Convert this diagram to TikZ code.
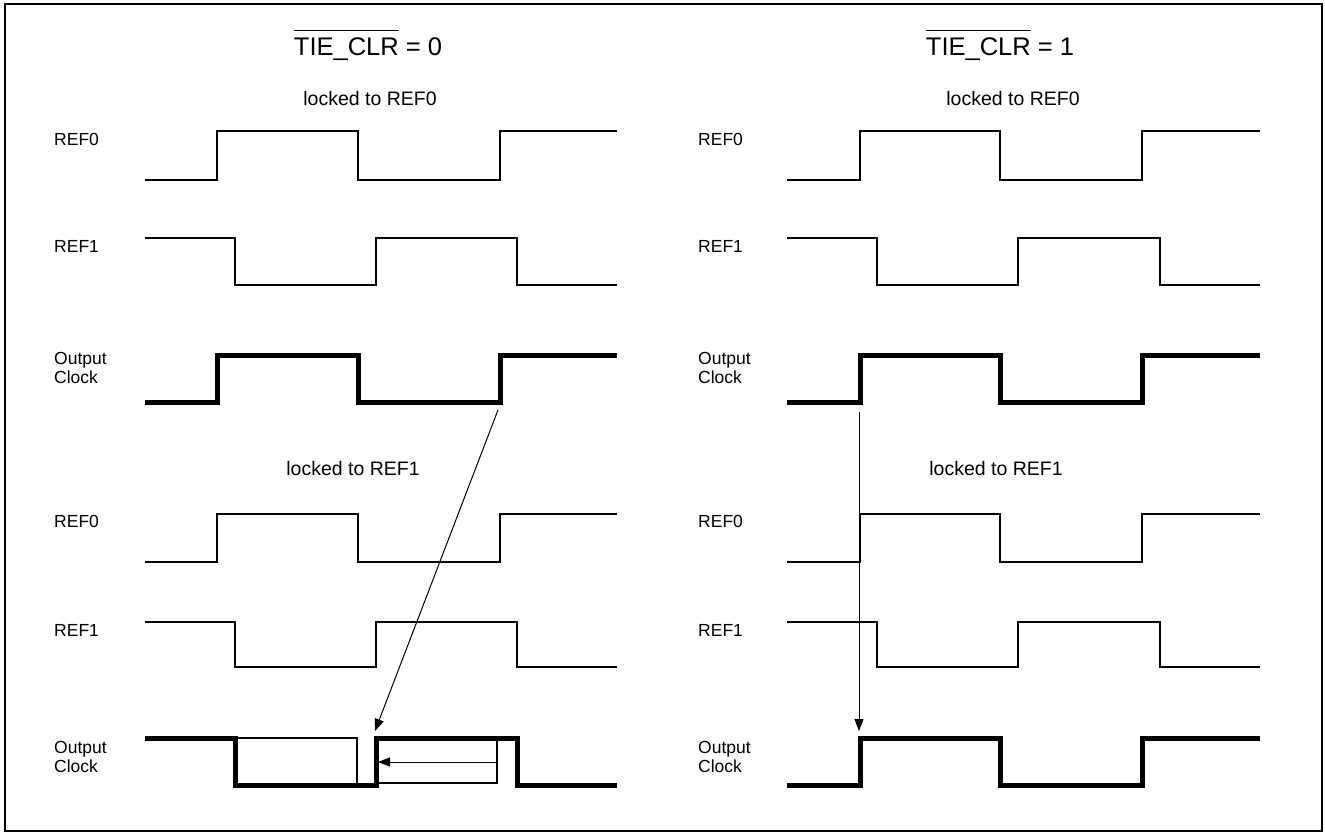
\documentclass[tikz,border=0pt]{standalone}
\usepackage{fontspec}
\setmainfont{Liberation Sans}
\usetikzlibrary{arrows.meta}
\newcommand{\barred}[1]{$\overline{\mbox{#1\rule{0pt}{0.95em}}}$}
\begin{document}
\begin{tikzpicture}[x=1pt,y=-1pt,
  wave/.style={line width=2.4pt,line join=miter},
  owave/.style={line width=5pt,line join=miter},
  thin/.style={line width=1.3pt},
  lbl/.style={font=\fontsize{17.5}{19}\selectfont,anchor=west,align=left,inner sep=0pt},
  ttl/.style={font=\fontsize{25.5}{28}\selectfont,inner sep=0pt,anchor=base},
  lck/.style={font=\fontsize{19.5}{23}\selectfont,inner sep=0pt},
  arr/.style={line width=1pt,-{Triangle[length=12pt,width=9pt]}}]
\useasboundingbox (0,0) rectangle (1325,834);
\draw[line width=2.5pt] (5,4) rectangle (1322,831);
% titles
\node[ttl] (t0) at (368,56) {\barred{TIE\_CLR} = 0};
\node[ttl] (t1) at (1000,56) {\barred{TIE\_CLR} = 1};
\node[lck] (l00) at (370,99) {locked to REF0};
\node[lck] (l10) at (1013,99) {locked to REF0};
\node[lck] (l01) at (353,469) {locked to REF1};
\node[lck] (l11) at (996,469) {locked to REF1};
% labels left
\node[lbl] (a1) at (54,139) {REF0};
\node[lbl] (a2) at (54,246) {REF1};
\node[lbl] (a3) at (54,368) {Output\\Clock};
\node[lbl] (a4) at (54,521) {REF0};
\node[lbl] (a5) at (54,630) {REF1};
\node[lbl] (a6) at (54,757) {Output\\Clock};
% labels right
\node[lbl] (b1) at (698,139) {REF0};
\node[lbl] (b2) at (698,246) {REF1};
\node[lbl] (b3) at (698,368) {Output\\Clock};
\node[lbl] (b4) at (698,521) {REF0};
\node[lbl] (b5) at (698,630) {REF1};
\node[lbl] (b6) at (698,757) {Output\\Clock};
% left waves
\draw[wave] (145,180)--(217,180)--(217,131)--(358,131)--(358,180)--(500,180)--(500,131)--(617,131);
\draw[wave] (145,238)--(235,238)--(235,285)--(376,285)--(376,238)--(517,238)--(517,285)--(617,285);
\draw[owave] (145,402)--(217,402)--(217,355)--(358,355)--(358,402)--(500,402)--(500,355)--(617,355);
\draw[wave] (145,562)--(217,562)--(217,514)--(358,514)--(358,562)--(500,562)--(500,514)--(617,514);
\draw[wave] (145,622)--(235,622)--(235,667)--(376,667)--(376,622)--(517,622)--(517,667)--(617,667);
\draw[thin] (235,738) rectangle (357,785);
\draw[thin] (376,738) rectangle (497,783);
\draw[owave] (145,738)--(235,738)--(235,785)--(376,785)--(376,738)--(517,738)--(517,785)--(617,785);
% right waves
\draw[wave] (787,180)--(860,180)--(860,131)--(1000,131)--(1000,180)--(1142,180)--(1142,131)--(1260,131);
\draw[wave] (787,238)--(877,238)--(877,285)--(1018,285)--(1018,238)--(1160,238)--(1160,285)--(1260,285);
\draw[owave] (787,402)--(860,402)--(860,355)--(1000,355)--(1000,402)--(1142,402)--(1142,355)--(1260,355);
\draw[wave] (787,562)--(860,562)--(860,514)--(1000,514)--(1000,562)--(1142,562)--(1142,514)--(1260,514);
\draw[wave] (787,622)--(877,622)--(877,667)--(1018,667)--(1018,622)--(1160,622)--(1160,667)--(1260,667);
\draw[owave] (787,785)--(860,785)--(860,738)--(1000,738)--(1000,785)--(1142,785)--(1142,738)--(1260,738);
% arrows
\coordinate (p1) at (498,410);
\coordinate (q1) at (375,731);
\coordinate (p2) at (497,762);
\coordinate (q2) at (378,762);
\coordinate (p3) at (859,412);
\coordinate (q3) at (859,731);
\draw[arr] (p1) -- (q1);
\draw[arr] (p2) -- (q2);
\draw[arr] (p3) -- (q3);
\end{tikzpicture}
\end{document}
